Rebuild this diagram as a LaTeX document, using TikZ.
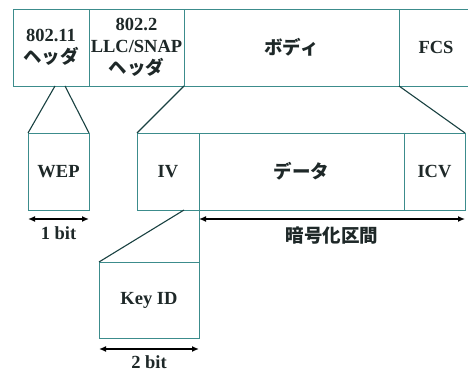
\documentclass[tikz,border=0pt]{standalone}
\usepackage{fontspec}
\setmainfont{Liberation Serif}
\newfontfamily\jp{Noto Sans CJK JP}
\usetikzlibrary{arrows.meta,calc}
\definecolor{boxc}{RGB}{60,140,140}
\definecolor{linec}{RGB}{25,65,65}
\definecolor{txt}{RGB}{30,40,40}
\tikzset{
  box/.style={draw=boxc,line width=0.9pt,rectangle,anchor=north west,inner sep=0pt,outer sep=0pt,
    align=center,text=txt,font=\fontsize{18.5}{22}\selectfont\bfseries},
  diag/.style={draw=linec,line width=1.1pt},
  arr/.style={draw=black,line width=1.3pt,{Latex[length=7pt,width=6pt]}-{Latex[length=7pt,width=6pt]}},
  lbl/.style={text=txt,font=\fontsize{18.5}{22}\selectfont\bfseries,inner sep=0pt}
}
\begin{document}
\begin{tikzpicture}[x=1pt,y=-1pt]
\useasboundingbox (0,0) rectangle (468,371);
\clip (0,0) rectangle (468,371);
% top row
\node[box,minimum width=76pt,minimum height=77pt] (h11) at (13,9) {802.11\\{\jp ヘッダ}};
\node[box,minimum width=95pt,minimum height=77pt] (h22) at (89,9) {802.2\\LLC/SNAP\\{\jp ヘッダ}};
\node[box,minimum width=215pt,minimum height=77pt] (body) at (184,9) {\jp ボディ};
\node[box,minimum width=74pt,minimum height=77pt] (fcs) at (399,9) {FCS};
% middle row
\node[box,minimum width=61pt,minimum height=77pt] (wep) at (28,133) {WEP};
\node[box,minimum width=62pt,minimum height=77pt] (iv) at (137,133) {IV};
\node[box,minimum width=205pt,minimum height=77pt] (data) at (199,133) {\jp データ};
\node[box,minimum width=61pt,minimum height=77pt] (icv) at (404,133) {ICV};
% key id
\node[box,minimum width=100pt,minimum height=76pt] (key) at (99,262) {Key ID};
% connectors
\draw[diag] ([xshift=4pt]h11.south) -- (wep.north west);
\draw[diag] ([xshift=14pt]h11.south) -- (wep.north east);
\draw[diag] (h22.south east) -- (iv.north west);
\draw[diag] (fcs.south west) -- (icv.north east);
\draw[diag] ([xshift=-15pt]iv.south east) -- (key.north west);
\draw[draw=boxc,line width=0.9pt] (iv.south east) -- (key.north east);
% arrows
\draw[arr] ([yshift=-9pt]wep.south west) -- ([yshift=-9pt]wep.south east)
  node[lbl,midway,below=7pt] (l1) {1 bit};
\draw[arr] ([yshift=-9pt]data.south west) -- ([yshift=-9pt]icv.south east)
  node[lbl,midway,below=7pt,font=\jp\fontsize{18.5}{22}\selectfont\bfseries] (l2) {暗号化区間};
\draw[arr] ([yshift=-11pt]key.south west) -- ([yshift=-11pt]key.south east)
  node[lbl,midway,below=6pt] (l3) {2 bit};
\end{tikzpicture}
\end{document}
